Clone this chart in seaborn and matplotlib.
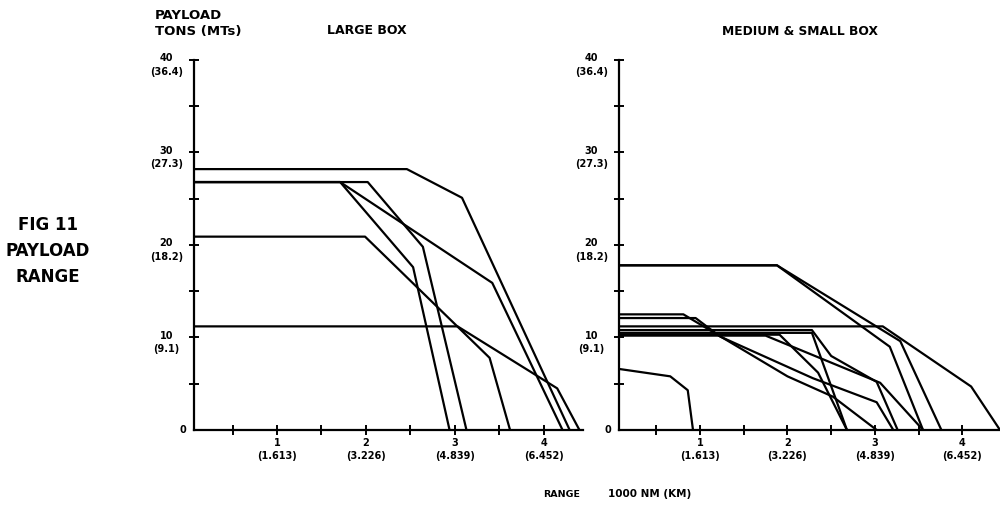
import numpy as np
import pandas as pd
import matplotlib
matplotlib.use("Agg")
import matplotlib.pyplot as plt
import seaborn as sns

# curves: x = range (1000 NM), y = payload (tons)
large_x = [
    [0, 2.46, 3.08, 4.29],
    [0, 1.71, 2.53, 2.94],
    [0, 2.02, 2.64, 3.13],
    [0, 1.71, 3.42, 4.21],
    [0, 1.99, 3.39, 3.62],
    [0, 3.03, 4.15, 4.40],
]
large_y = [
    [28.2, 28.2, 25.1, 0],
    [26.8, 26.8, 17.6, 0],
    [26.8, 26.8, 19.8, 0],
    [26.8, 26.8, 15.9, 0],
    [20.9, 20.9, 7.8, 0],
    [11.2, 11.2, 4.5, 0],
]

medium_x = [
    [0, 0.66, 0.86, 0.92],
    [0, 1.88, 3.17, 3.55],
    [0, 1.88, 3.29, 3.76],
    [0, 3.09, 4.10, 4.43],
    [0, 0.81, 2.00, 2.52, 3.02],
    [0, 0.95, 1.23, 2.29, 3.02, 3.21],
    [0, 2.28, 2.68],
    [0, 1.91, 2.35, 2.68],
    [0, 2.28, 2.50, 3.02, 3.26],
    [0, 1.75, 3.06, 3.55],
]
medium_y = [
    [6.7, 5.8, 4.3, 0],
    [17.8, 17.8, 9.0, 0],
    [17.8, 17.8, 9.6, 0],
    [11.2, 11.2, 4.7, 0],
    [12.5, 12.5, 5.8, 3.6, 0],
    [12.1, 12.1, 10.1, 5.6, 3.0, 0],
    [10.5, 10.5, 0],
    [10.3, 10.3, 6.2, 0],
    [10.8, 10.8, 8.0, 5.2, 0],
    [10.2, 10.2, 5.1, 0],
]

y_ticks = [5, 10, 15, 20, 25, 30, 35, 40]
y_labels = {10: "10\n(9.1)", 20: "20\n(18.2)", 30: "30\n(27.3)", 40: "40\n(36.4)"}
x_ticks = [0.5, 1, 1.5, 2, 2.5, 3, 3.5, 4]
x_labels = ["", "1\n(1.613)", "", "2\n(3.226)", "", "3\n(4.839)", "", "4\n(6.452)"]


def to_frame(xs, ys):
    rows = []
    for i, (xx, yy) in enumerate(zip(xs, ys)):
        for a, b in zip(xx, yy):
            rows.append({"line": i, "range": a, "payload": b})
    return pd.DataFrame(rows)


sns.set_style("white")
plt.rcParams["font.family"] = ["DejaVu Sans"]
plt.rcParams["font.weight"] = "bold"
plt.rcParams["text.color"] = "black"
plt.rcParams["xtick.color"] = "black"
plt.rcParams["ytick.color"] = "black"

fig = plt.figure(figsize=(10, 5.19), dpi=100)
ax1 = fig.add_axes([0.194, 0.1715, 0.389, 0.713])
ax2 = fig.add_axes([0.619, 0.1715, 0.381, 0.713])

panels = [(ax1, to_frame(large_x, large_y), (0.067, 4.44)),
          (ax2, to_frame(medium_x, medium_y), (0.074, 4.43))]

for ax, df, xl in panels:
    sns.lineplot(data=df, x="range", y="payload", units="line", estimator=None,
                 sort=False, color="black", linewidth=1.6, ax=ax, legend=False)
    ax.set_xlim(*xl)
    ax.set_ylim(0, 40)
    for s in ["top", "right"]:
        ax.spines[s].set_visible(False)
    for s in ["left", "bottom"]:
        ax.spines[s].set_linewidth(1.6)
        ax.spines[s].set_color("black")
    ax.set_xlabel("")
    ax.set_ylabel("")
    ax.set_yticks(y_ticks)
    ax.set_yticklabels([])
    ax.set_xticks(x_ticks, x_labels)
    ax.tick_params(axis="both", which="major", direction="inout", length=7,
                   width=1.4, color="black", bottom=True, left=True)
    ax.tick_params(axis="x", labelsize=7, pad=2)
    for lab in ax.get_xticklabels():
        lab.set_fontweight("bold")
        lab.set_linespacing(1.45)
    for v, txt in y_labels.items():
        ax.annotate(txt, xy=(0, v), xycoords=ax.get_yaxis_transform(),
                    xytext=(-20, 5), textcoords="offset points",
                    ha="center", va="top", fontsize=7, fontweight="bold",
                    linespacing=1.45)
    ax.annotate("0", xy=(0, 0), xycoords=ax.get_yaxis_transform(),
                xytext=(-8, 0), textcoords="offset points",
                ha="center", va="center", fontsize=7, fontweight="bold")

fig.text(0.155, 0.982, "PAYLOAD\nTONS (MTs)", ha="left", va="top",
         fontsize=9.5, fontweight="bold", linespacing=1.25)
fig.text(0.367, 0.942, "LARGE BOX", ha="center", va="center",
         fontsize=9, fontweight="bold")
fig.text(0.800, 0.940, "MEDIUM & SMALL BOX", ha="center", va="center",
         fontsize=8.8, fontweight="bold")
fig.text(0.048, 0.516, "FIG 11\nPAYLOAD\nRANGE", ha="center", va="center",
         fontsize=12, fontweight="bold", linespacing=1.55)
fig.text(0.562, 0.048, "RANGE", ha="center", va="center",
         fontsize=6.8, fontweight="bold")
fig.text(0.650, 0.048, "1000 NM (KM)", ha="center", va="center",
         fontsize=7.5, fontweight="bold")

fig.savefig("out.png", dpi=100, facecolor="white")
